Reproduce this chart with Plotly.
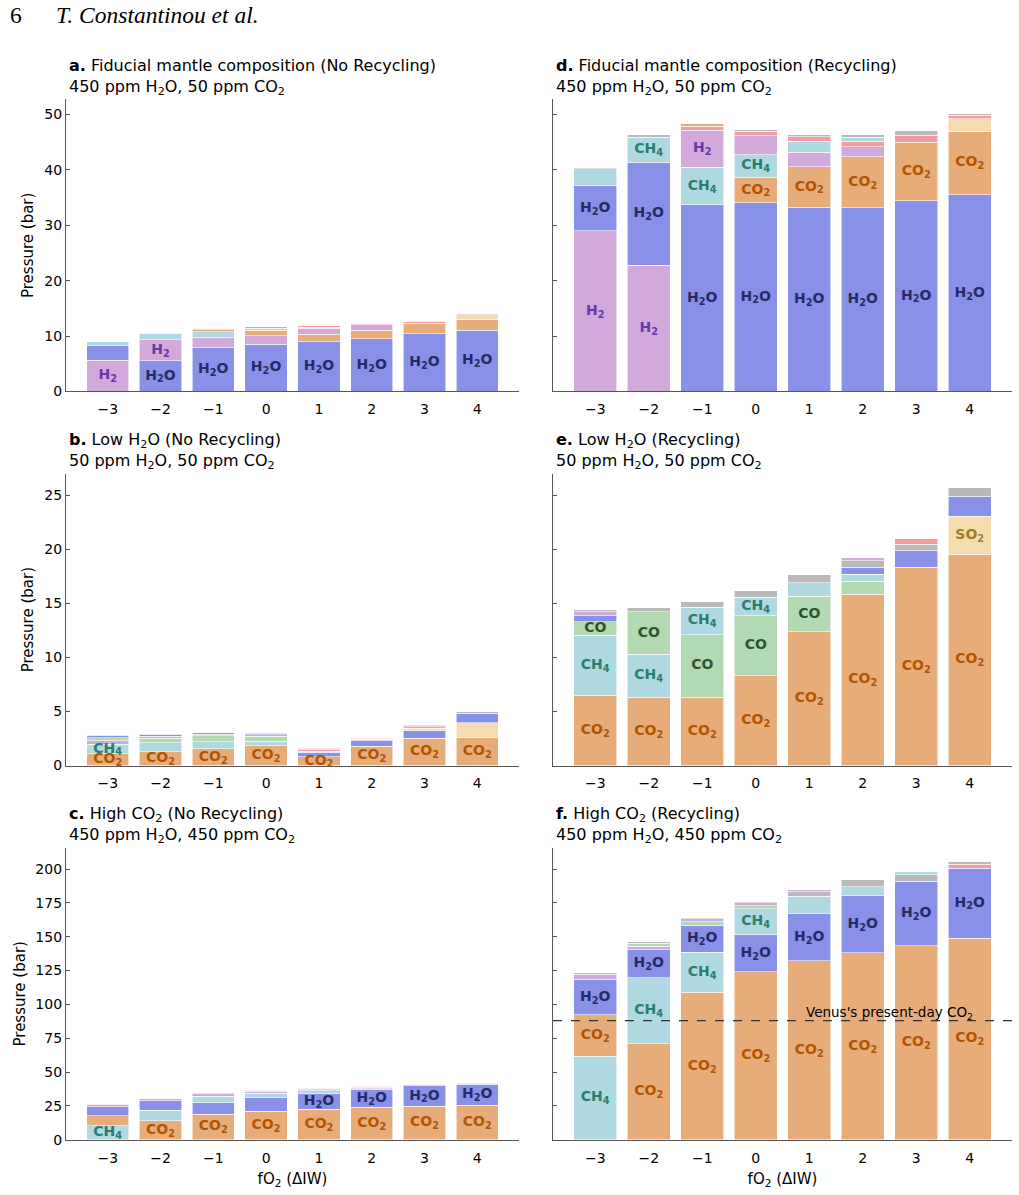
import plotly.graph_objects as go

# ---------------- data ----------------
fO2 = [-3, -2, -1, 0, 1, 2, 3, 4]
fO2_ticktext = ["\u22123", "\u22122", "\u22121", "0", "1", "2", "3", "4"]
species = ["H2O", "CO2", "H2", "CH4", "CO", "SO2", "H2S", "N2"]

# a. Fiducial (No Recycling)
a_H2O = [2.56, 5.54, 7.86, 8.51, 8.93, 9.46, 10.42, 11.01]
a_CO2 = [0.0, 0.0, 0.36, 0.95, 1.37, 1.61, 1.90, 1.97]
a_H2 = [5.65, 3.81, 1.96, 1.55, 1.07, 0.95, 0.05, 0.0]
a_CH4 = [0.72, 1.13, 0.95, 0.42, 0.25, 0.05, 0.0, 0.0]
a_CO = [0.02, 0.03, 0.05, 0.05, 0.05, 0.05, 0.03, 0.02]
a_SO2 = [0.0, 0.0, 0.0, 0.0, 0.0, 0.02, 0.05, 0.83]
a_H2S = [0.0, 0.0, 0.24, 0.24, 0.22, 0.24, 0.36, 0.10]
a_N2 = [0.06, 0.12, 0.05, 0.06, 0.05, 0.05, 0.06, 0.18]

# d. Fiducial (Recycling)
d_H2O = [8.2, 18.55, 33.7, 34.07, 33.23, 33.17, 34.43, 35.5]
d_CO2 = [0.0, 0.0, 0.45, 4.6, 7.35, 9.2, 10.56, 11.52]
d_H2 = [29.0, 22.8, 6.7, 3.4, 2.57, 1.85, 0.0, 0.0]
d_CH4 = [3.0, 4.55, 6.75, 4.1, 2.03, 0.71, 0.0, 0.0]
d_CO = [0.0, 0.0, 0.0, 0.0, 0.0, 0.0, 0.0, 0.0]
d_SO2 = [0.0, 0.0, 0.0, 0.0, 0.0, 0.0, 0.0, 2.2]
d_H2S = [0.0, 0.0, 0.75, 0.8, 0.77, 0.97, 1.31, 0.66]
d_N2 = [0.15, 0.5, 0.1, 0.3, 0.42, 0.48, 0.78, 0.36]

# b. Low H2O (No Recycling)
b_H2O = [0.26, 0.19, 0.12, 0.14, 0.38, 0.52, 0.71, 0.89]
b_CO2 = [1.07, 1.29, 1.56, 1.81, 0.83, 1.78, 2.51, 2.63]
b_H2 = [0.29, 0.20, 0.16, 0.15, 0.12, 0.13, 0.12, 0.0]
b_CH4 = [0.92, 0.82, 0.62, 0.46, 0.09, 0.0, 0.0, 0.0]
b_CO = [0.27, 0.40, 0.56, 0.43, 0.10, 0.10, 0.0, 0.0]
b_SO2 = [0.0, 0.0, 0.0, 0.0, 0.0, 0.0, 0.24, 1.32]
b_H2S = [0.0, 0.0, 0.0, 0.0, 0.11, 0.11, 0.12, 0.0]
b_N2 = [0.08, 0.09, 0.08, 0.10, 0.07, 0.06, 0.06, 0.12]

# e. Low H2O (Recycling)
e_H2O = [0.52, 0.0, 0.0, 0.0, 0.0, 0.64, 1.53, 1.86]
e_CO2 = [6.51, 6.33, 6.33, 8.32, 12.39, 15.84, 18.35, 19.54]
e_H2 = [0.40, 0.0, 0.0, 0.0, 0.0, 0.25, 0.0, 0.0]
e_CH4 = [5.57, 3.95, 2.54, 1.72, 1.28, 0.66, 0.0, 0.0]
e_CO = [1.25, 3.94, 5.78, 5.56, 3.27, 1.22, 0.0, 0.0]
e_SO2 = [0.0, 0.0, 0.0, 0.0, 0.0, 0.0, 0.0, 3.52]
e_H2S = [0.0, 0.0, 0.0, 0.0, 0.0, 0.0, 0.57, 0.0]
e_N2 = [0.21, 0.43, 0.49, 0.58, 0.74, 0.62, 0.59, 0.80]

# c. High CO2 (No Recycling)
c_H2O = [6.6, 6.8, 8.3, 9.8, 11.4, 12.9, 14.9, 15.4]
c_CO2 = [7.3, 14.1, 19.0, 21.2, 22.7, 23.9, 24.9, 25.6]
c_H2 = [1.7, 1.4, 1.7, 1.5, 1.0, 0.9, 0.0, 0.0]
c_CH4 = [10.5, 7.9, 4.9, 3.4, 2.0, 1.0, 0.0, 0.0]
c_CO = [0.3, 0.6, 0.7, 0.5, 0.5, 0.3, 0.0, 0.0]
c_SO2 = [0.0, 0.0, 0.0, 0.0, 0.0, 0.0, 0.0, 0.5]
c_H2S = [0.0, 0.0, 0.0, 0.0, 0.0, 0.7, 1.2, 0.6]
c_N2 = [0.5, 0.4, 0.5, 0.7, 0.9, 0.5, 0.5, 0.1]

# f. High CO2 (Recycling)
f_H2O = [26.2, 20.8, 20.1, 27.5, 34.8, 41.9, 47.5, 51.7]
f_CO2 = [30.4, 71.1, 108.8, 124.0, 132.1, 138.2, 143.4, 149.0]
f_H2 = [3.7, 2.5, 2.3, 2.0, 1.7, 0.0, 0.0, 0.0]
f_CH4 = [61.8, 48.5, 29.7, 19.3, 12.8, 6.9, 2.5, 0.0]
f_CO = [0.0, 2.2, 2.35, 2.1, 0.0, 0.0, 0.0, 0.0]
f_SO2 = [0.0, 0.0, 0.0, 0.0, 0.0, 0.0, 0.0, 0.0]
f_H2S = [0.0, 0.0, 0.0, 0.0, 0.0, 0.0, 0.0, 2.7]
f_N2 = [1.2, 1.0, 1.3, 1.2, 3.6, 5.2, 4.9, 2.0]

venus_CO2 = 88.0

# which segments carry a text label (per bar)
a_labels = [["H2"], ["H2", "H2O"], ["H2O"], ["H2O"], ["H2O"], ["H2O"], ["H2O"], ["H2O"]]
d_labels = [["H2", "H2O"], ["H2", "H2O", "CH4"], ["H2O", "CH4", "H2"], ["H2O", "CO2", "CH4"],
            ["H2O", "CO2"], ["H2O", "CO2"], ["H2O", "CO2"], ["H2O", "CO2"]]
b_labels = [["CO2", "CH4"], ["CO2"], ["CO2"], ["CO2"], ["CO2"], ["CO2"], ["CO2"], ["CO2"]]
e_labels = [["CO2", "CH4", "CO"], ["CO2", "CH4", "CO"], ["CO2", "CO", "CH4"], ["CO2", "CO", "CH4"],
            ["CO2", "CO"], ["CO2"], ["CO2"], ["CO2", "SO2"]]
c_labels = [["CH4"], ["CO2"], ["CO2"], ["CO2"], ["CO2", "H2O"], ["CO2", "H2O"], ["CO2", "H2O"], ["CO2", "H2O"]]
f_labels = [["CH4", "CO2", "H2O"], ["CO2", "CH4", "H2O"], ["CO2", "CH4", "H2O"], ["CO2", "H2O", "CH4"],
            ["CO2", "H2O"], ["CO2", "H2O"], ["CO2", "H2O"], ["CO2", "H2O"]]

species_text = {"H2O": "H<sub>2</sub>O", "CO2": "CO<sub>2</sub>", "H2": "H<sub>2</sub>",
                "CH4": "CH<sub>4</sub>", "CO": "CO", "SO2": "SO<sub>2</sub>",
                "H2S": "H<sub>2</sub>S", "N2": "N<sub>2</sub>"}
fill_colors = {"H2O": "#8891e7", "CO2": "#e6ad7b", "H2": "#d1a9db", "CH4": "#afd8e0",
               "CO": "#b3d9b2", "SO2": "#f5dcaf", "H2S": "#f69aa2", "N2": "#b9b9b9"}
text_colors = {"H2O": "#262b68", "CO2": "#b35400", "H2": "#6a38a8", "CH4": "#2a7d72",
               "CO": "#2e552e", "SO2": "#a07c28", "H2S": "#a03040", "N2": "#444444"}

panels = [
    dict(key="a", data=[a_H2O, a_CO2, a_H2, a_CH4, a_CO, a_SO2, a_H2S, a_N2], labels=a_labels,
         title="<b>a.</b> Fiducial mantle composition (No Recycling)<br>450 ppm H<sub>2</sub>O, 50 ppm CO<sub>2</sub>",
         row=0, col=0),
    dict(key="d", data=[d_H2O, d_CO2, d_H2, d_CH4, d_CO, d_SO2, d_H2S, d_N2], labels=d_labels,
         title="<b>d.</b> Fiducial mantle composition (Recycling)<br>450 ppm H<sub>2</sub>O, 50 ppm CO<sub>2</sub>",
         row=0, col=1),
    dict(key="b", data=[b_H2O, b_CO2, b_H2, b_CH4, b_CO, b_SO2, b_H2S, b_N2], labels=b_labels,
         title="<b>b.</b> Low H<sub>2</sub>O (No Recycling)<br>50 ppm H<sub>2</sub>O, 50 ppm CO<sub>2</sub>",
         row=1, col=0),
    dict(key="e", data=[e_H2O, e_CO2, e_H2, e_CH4, e_CO, e_SO2, e_H2S, e_N2], labels=e_labels,
         title="<b>e.</b> Low H<sub>2</sub>O (Recycling)<br>50 ppm H<sub>2</sub>O, 50 ppm CO<sub>2</sub>",
         row=1, col=1),
    dict(key="c", data=[c_H2O, c_CO2, c_H2, c_CH4, c_CO, c_SO2, c_H2S, c_N2], labels=c_labels,
         title="<b>c.</b> High CO<sub>2</sub> (No Recycling)<br>450 ppm H<sub>2</sub>O, 450 ppm CO<sub>2</sub>",
         row=2, col=0),
    dict(key="f", data=[f_H2O, f_CO2, f_H2, f_CH4, f_CO, f_SO2, f_H2S, f_N2], labels=f_labels,
         title="<b>f.</b> High CO<sub>2</sub> (Recycling)<br>450 ppm H<sub>2</sub>O, 450 ppm CO<sub>2</sub>",
         row=2, col=1),
]
row_dticks = [10, 5, 25]

# ---------------- layout geometry (pixels) ----------------
W, H = 1019, 1195
col_px = [(66, 519), (553, 1012)]
row_px = [(100, 394), (477, 770.7), (853.5, 1147.5)]
FONT = "DejaVu Sans"


def px_x(p):
    return p / W


def px_y(p):
    return 1 - p / H


fig = go.Figure()
layout = dict(
    width=W, height=H, margin=dict(l=0, r=0, t=0, b=0),
    paper_bgcolor="white", plot_bgcolor="white", barmode="stack", showlegend=False,
    font=dict(family=FONT, size=14, color="black"),
)

# row y-ranges shared between columns (matplotlib-like 5% margin)
row_max = [0, 0, 0]
for p in panels:
    totals = [sum(v[i] for v in p["data"]) for i in range(len(fO2))]
    row_max[p["row"]] = max(row_max[p["row"]], max(totals))

annotations = []
shapes = []
for idx, p in enumerate(panels):
    n = idx + 1
    xa = "x" if n == 1 else f"x{n}"
    ya = "y" if n == 1 else f"y{n}"
    r, c = p["row"], p["col"]
    vals = dict(zip(species, p["data"]))
    # sort species per bar: largest at the bottom
    orders = []
    for i in range(len(fO2)):
        orders.append(sorted(species, key=lambda s: -vals[s][i]))
    for k in range(len(species)):
        yk = [vals[orders[i][k]][i] for i in range(len(fO2))]
        ck = [fill_colors[orders[i][k]] for i in range(len(fO2))]
        fig.add_trace(go.Bar(
            x=fO2, y=yk, width=0.8, marker=dict(color=ck, line=dict(color="rgba(255,255,255,0.7)", width=0.8)),
            xaxis=xa, yaxis=ya, hoverinfo="skip"))
    # labels
    lx, ly, lt, lc = [], [], [], []
    for i in range(len(fO2)):
        base = 0.0
        for s in orders[i]:
            v = vals[s][i]
            if s in p["labels"][i]:
                lx.append(fO2[i])
                ly.append(base + v / 2)
                lt.append("<b>" + species_text[s] + "</b>")
                lc.append(text_colors[s])
            base += v
    fig.add_trace(go.Scatter(x=lx, y=ly, text=lt, mode="text", textposition="middle center",
                             textfont=dict(family=FONT, size=14, color=lc),
                             xaxis=xa, yaxis=ya, hoverinfo="skip", cliponaxis=False))

    x0, x1 = col_px[c]
    yt, yb = row_px[r]
    xkey = "xaxis" if n == 1 else f"xaxis{n}"
    ykey = "yaxis" if n == 1 else f"yaxis{n}"
    layout[xkey] = dict(
        domain=[px_x(x0), px_x(x1)], anchor=ya, range=[-3.79, 4.79],
        tickmode="array", tickvals=fO2, ticktext=fO2_ticktext, ticks="",
        ticklabelstandoff=5,
        showline=True, linecolor="#555555", linewidth=1.3, showgrid=False, zeroline=False,
        tickfont=dict(size=14, color="black"),
    )
    if r == 2:
        layout[xkey]["title"] = dict(text="fO<sub>2</sub> (\u0394IW)", font=dict(size=15), standoff=8)
    layout[ykey] = dict(
        domain=[px_y(yb), px_y(yt)], anchor=xa, range=[0, row_max[r] * 1.05],
        dtick=row_dticks[r], tick0=0, ticks="inside", ticklen=4, tickcolor="#555555",
        showline=True, linecolor="#555555", linewidth=1.3, showgrid=False, zeroline=False,
        showticklabels=(c == 0), tickfont=dict(size=14, color="black"),
    )
    if c == 0:
        layout[ykey]["title"] = dict(text="Pressure (bar)", font=dict(size=15), standoff=6)

    annotations.append(dict(
        text=p["title"], xref="paper", yref="paper", x=px_x(x0 + 1), y=px_y(yt - 46),
        xanchor="left", yanchor="top", align="left", showarrow=False,
        font=dict(size=16, color="black", family=FONT)))

    if p["key"] == "f":
        shapes.append(dict(type="line", xref=f"{xa} domain", yref=ya, x0=0, x1=1,
                           y0=venus_CO2, y1=venus_CO2,
                           line=dict(color="#333333", width=1.2, dash="dash")))
        annotations.append(dict(
            text="Venus's present-day CO<sub>2</sub>", xref=xa, yref=ya, x=4.1, y=venus_CO2,
            xanchor="right", yanchor="bottom", showarrow=False, yshift=-3,
            font=dict(size=13.5, color="black", family=FONT)))

# page header
annotations.append(dict(text="6", xref="paper", yref="paper", x=px_x(8), y=px_y(15),
                        xanchor="left", yanchor="middle", showarrow=False,
                        font=dict(family="Liberation Serif", size=23.5, color="black")))
annotations.append(dict(text="<i>T. Constantinou et al.</i>", xref="paper", yref="paper",
                        x=px_x(54), y=px_y(15), xanchor="left", yanchor="middle", showarrow=False,
                        font=dict(family="Liberation Serif", size=23.5, color="black")))

layout["annotations"] = annotations
layout["shapes"] = shapes
fig.update_layout(**layout)
fig.write_html("out.html")
